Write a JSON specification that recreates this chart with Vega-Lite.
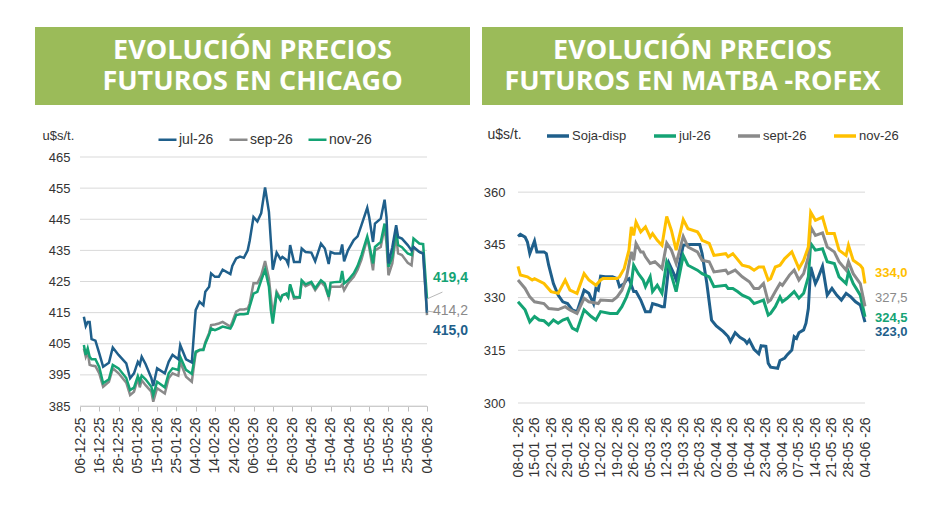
{
"$schema": "https://vega.github.io/schema/vega-lite/v6.json",
"background": "white",
"padding": {"left": 35, "top": 27, "right": 30, "bottom": 40},
"config": {
  "view": {"stroke": null},
  "font": "Liberation Sans",
  "axis": {"labelFlush": false, "labelOverlap": false, "gridColor": "#d9d9d9", "labelColor": "#333333", "titleColor": "#333333"}
},
"datasets": {
"chi": [
{"d":"2025-12-08","jul-26":413.7,"sep-26":403.5,"nov-26":404.6},
{"d":"2025-12-09","jul-26":410.7,"sep-26":400.8,"nov-26":401.4},
{"d":"2025-12-10","jul-26":412.0,"sep-26":402.4,"nov-26":403.5},
{"d":"2025-12-11","jul-26":412.0,"sep-26":398.2,"nov-26":400.8},
{"d":"2025-12-12","jul-26":406.5,"sep-26":398.0,"nov-26":400.0},
{"d":"2025-12-14","jul-26":406.0,"sep-26":397.8,"nov-26":400.0},
{"d":"2025-12-16","jul-26":401.9,"sep-26":395.5,"nov-26":397.5},
{"d":"2025-12-18","jul-26":397.6,"sep-26":391.2,"nov-26":392.3},
{"d":"2025-12-21","jul-26":398.9,"sep-26":392.8,"nov-26":393.6},
{"d":"2025-12-23","jul-26":403.8,"sep-26":397.1,"nov-26":398.2},
{"d":"2025-12-26","jul-26":401.4,"sep-26":395.5,"nov-26":397.1},
{"d":"2025-12-30","jul-26":398.7,"sep-26":392.5,"nov-26":394.0},
{"d":"2026-01-01","jul-26":393.9,"sep-26":388.5,"nov-26":390.1},
{"d":"2026-01-03","jul-26":395.5,"sep-26":389.6,"nov-26":390.9},
{"d":"2026-01-05","jul-26":399.2,"sep-26":393.9,"nov-26":394.6},
{"d":"2026-01-06","jul-26":398.2,"sep-26":391.0,"nov-26":392.8},
{"d":"2026-01-07","jul-26":400.8,"sep-26":393.3,"nov-26":394.8},
{"d":"2026-01-09","jul-26":398.5,"sep-26":391.7,"nov-26":393.6},
{"d":"2026-01-12","jul-26":394.0,"sep-26":389.6,"nov-26":391.2},
{"d":"2026-01-13","jul-26":391.4,"sep-26":386.4,"nov-26":388.5},
{"d":"2026-01-15","jul-26":397.1,"sep-26":390.7,"nov-26":392.8},
{"d":"2026-01-19","jul-26":395.5,"sep-26":389.0,"nov-26":391.0},
{"d":"2026-01-21","jul-26":399.2,"sep-26":393.9,"nov-26":395.5},
{"d":"2026-01-23","jul-26":401.4,"sep-26":395.5,"nov-26":397.1},
{"d":"2026-01-26","jul-26":400.0,"sep-26":394.7,"nov-26":396.6},
{"d":"2026-01-27","jul-26":404.6,"sep-26":399.2,"nov-26":400.8},
{"d":"2026-01-30","jul-26":400.0,"sep-26":394.4,"nov-26":396.6},
{"d":"2026-02-02","jul-26":399.0,"sep-26":392.8,"nov-26":395.3},
{"d":"2026-02-04","jul-26":415.8,"sep-26":402.0,"nov-26":402.5},
{"d":"2026-02-06","jul-26":418.5,"sep-26":403.0,"nov-26":403.0},
{"d":"2026-02-08","jul-26":417.4,"sep-26":403.2,"nov-26":403.0},
{"d":"2026-02-09","jul-26":421.7,"sep-26":405.5,"nov-26":405.0},
{"d":"2026-02-11","jul-26":423.3,"sep-26":408.5,"nov-26":408.0},
{"d":"2026-02-12","jul-26":427.6,"sep-26":411.0,"nov-26":409.9},
{"d":"2026-02-14","jul-26":426.5,"sep-26":411.2,"nov-26":409.4},
{"d":"2026-02-16","jul-26":426.5,"sep-26":411.5,"nov-26":409.9},
{"d":"2026-02-18","jul-26":428.8,"sep-26":412.0,"nov-26":410.5},
{"d":"2026-02-22","jul-26":427.4,"sep-26":410.5,"nov-26":409.9},
{"d":"2026-02-23","jul-26":430.0,"sep-26":412.0,"nov-26":411.0},
{"d":"2026-02-25","jul-26":432.4,"sep-26":415.3,"nov-26":414.2},
{"d":"2026-02-27","jul-26":433.0,"sep-26":416.0,"nov-26":414.5},
{"d":"2026-03-01","jul-26":432.6,"sep-26":416.0,"nov-26":414.5},
{"d":"2026-03-03","jul-26":435.0,"sep-26":416.3,"nov-26":414.7},
{"d":"2026-03-04","jul-26":438.0,"sep-26":417.9,"nov-26":416.9},
{"d":"2026-03-06","jul-26":445.7,"sep-26":424.4,"nov-26":421.1},
{"d":"2026-03-08","jul-26":444.3,"sep-26":424.4,"nov-26":421.7},
{"d":"2026-03-10","jul-26":447.0,"sep-26":427.0,"nov-26":425.4},
{"d":"2026-03-12","jul-26":455.2,"sep-26":431.6,"nov-26":428.8},
{"d":"2026-03-14","jul-26":447.4,"sep-26":426.0,"nov-26":423.3},
{"d":"2026-03-15","jul-26":438.0,"sep-26":420.1,"nov-26":415.8},
{"d":"2026-03-16","jul-26":428.8,"sep-26":414.0,"nov-26":411.5},
{"d":"2026-03-18","jul-26":434.3,"sep-26":421.7,"nov-26":421.1},
{"d":"2026-03-20","jul-26":432.2,"sep-26":419.5,"nov-26":419.0},
{"d":"2026-03-21","jul-26":432.9,"sep-26":420.6,"nov-26":420.6},
{"d":"2026-03-23","jul-26":432.0,"sep-26":421.0,"nov-26":421.1},
{"d":"2026-03-24","jul-26":430.6,"sep-26":420.0,"nov-26":420.0},
{"d":"2026-03-25","jul-26":436.7,"sep-26":423.8,"nov-26":424.1},
{"d":"2026-03-27","jul-26":431.3,"sep-26":419.5,"nov-26":420.1},
{"d":"2026-03-30","jul-26":431.3,"sep-26":419.8,"nov-26":419.9},
{"d":"2026-03-31","jul-26":435.6,"sep-26":424.9,"nov-26":425.4},
{"d":"2026-04-02","jul-26":434.5,"sep-26":423.5,"nov-26":424.1},
{"d":"2026-04-05","jul-26":434.3,"sep-26":424.4,"nov-26":424.9},
{"d":"2026-04-07","jul-26":431.5,"sep-26":422.2,"nov-26":422.8},
{"d":"2026-04-10","jul-26":437.2,"sep-26":424.9,"nov-26":425.4},
{"d":"2026-04-12","jul-26":435.6,"sep-26":423.5,"nov-26":424.4},
{"d":"2026-04-14","jul-26":430.6,"sep-26":419.9,"nov-26":420.1},
{"d":"2026-04-15","jul-26":434.5,"sep-26":423.3,"nov-26":424.6},
{"d":"2026-04-17","jul-26":434.0,"sep-26":423.3,"nov-26":424.8},
{"d":"2026-04-20","jul-26":434.0,"sep-26":423.3,"nov-26":424.9},
{"d":"2026-04-21","jul-26":436.9,"sep-26":424.0,"nov-26":428.4},
{"d":"2026-04-22","jul-26":431.5,"sep-26":422.2,"nov-26":424.4},
{"d":"2026-04-24","jul-26":435.0,"sep-26":424.4,"nov-26":425.4},
{"d":"2026-04-27","jul-26":438.3,"sep-26":426.5,"nov-26":427.6},
{"d":"2026-04-29","jul-26":439.5,"sep-26":428.8,"nov-26":430.0},
{"d":"2026-05-01","jul-26":443.1,"sep-26":432.0,"nov-26":433.5},
{"d":"2026-05-04","jul-26":448.7,"sep-26":438.8,"nov-26":439.5},
{"d":"2026-05-05","jul-26":445.7,"sep-26":436.0,"nov-26":437.0},
{"d":"2026-05-07","jul-26":437.7,"sep-26":428.6,"nov-26":430.8},
{"d":"2026-05-08","jul-26":443.6,"sep-26":435.0,"nov-26":436.1},
{"d":"2026-05-11","jul-26":445.2,"sep-26":436.1,"nov-26":437.7},
{"d":"2026-05-13","jul-26":451.3,"sep-26":442.5,"nov-26":443.6},
{"d":"2026-05-14","jul-26":445.7,"sep-26":437.2,"nov-26":439.3},
{"d":"2026-05-15","jul-26":430.8,"sep-26":427.0,"nov-26":429.7},
{"d":"2026-05-17","jul-26":436.0,"sep-26":430.8,"nov-26":432.9},
{"d":"2026-05-19","jul-26":443.1,"sep-26":439.9,"nov-26":441.7},
{"d":"2026-05-20","jul-26":439.3,"sep-26":434.0,"nov-26":436.7},
{"d":"2026-05-22","jul-26":438.8,"sep-26":433.5,"nov-26":436.0},
{"d":"2026-05-25","jul-26":436.7,"sep-26":431.0,"nov-26":434.0},
{"d":"2026-05-27","jul-26":435.0,"sep-26":430.2,"nov-26":433.5},
{"d":"2026-05-28","jul-26":436.1,"sep-26":436.0,"nov-26":438.8},
{"d":"2026-05-31","jul-26":434.5,"sep-26":434.5,"nov-26":437.2},
{"d":"2026-06-02","jul-26":434.0,"sep-26":434.0,"nov-26":437.0},
{"d":"2026-06-04","jul-26":415.0,"sep-26":414.2,"nov-26":419.4}
],
"mat": [
{"s":"Soja-disp","d":"2026-01-08","v":347.4},{"s":"Soja-disp","d":"2026-01-09","v":348.0},{"s":"Soja-disp","d":"2026-01-11","v":347.2},{"s":"Soja-disp","d":"2026-01-12","v":345.8},{"s":"Soja-disp","d":"2026-01-13","v":342.5},{"s":"Soja-disp","d":"2026-01-15","v":346.1},{"s":"Soja-disp","d":"2026-01-16","v":343.0},{"s":"Soja-disp","d":"2026-01-19","v":343.0},{"s":"Soja-disp","d":"2026-01-20","v":342.5},{"s":"Soja-disp","d":"2026-01-21","v":339.2},{"s":"Soja-disp","d":"2026-01-23","v":334.0},{"s":"Soja-disp","d":"2026-01-25","v":330.7},{"s":"Soja-disp","d":"2026-01-27","v":328.8},{"s":"Soja-disp","d":"2026-01-29","v":328.3},{"s":"Soja-disp","d":"2026-01-31","v":326.5},{"s":"Soja-disp","d":"2026-02-02","v":326.0},{"s":"Soja-disp","d":"2026-02-05","v":332.1},{"s":"Soja-disp","d":"2026-02-07","v":331.2},{"s":"Soja-disp","d":"2026-02-09","v":328.3},{"s":"Soja-disp","d":"2026-02-10","v":332.6},{"s":"Soja-disp","d":"2026-02-11","v":332.1},{"s":"Soja-disp","d":"2026-02-12","v":336.1},{"s":"Soja-disp","d":"2026-02-14","v":335.9},{"s":"Soja-disp","d":"2026-02-17","v":335.9},{"s":"Soja-disp","d":"2026-02-19","v":335.4},{"s":"Soja-disp","d":"2026-02-20","v":333.1},{"s":"Soja-disp","d":"2026-02-22","v":334.0},{"s":"Soja-disp","d":"2026-02-23","v":335.0},{"s":"Soja-disp","d":"2026-02-24","v":335.4},{"s":"Soja-disp","d":"2026-02-26","v":331.7},{"s":"Soja-disp","d":"2026-02-27","v":331.7},{"s":"Soja-disp","d":"2026-03-01","v":329.3},{"s":"Soja-disp","d":"2026-03-03","v":326.0},{"s":"Soja-disp","d":"2026-03-05","v":326.0},{"s":"Soja-disp","d":"2026-03-06","v":328.3},{"s":"Soja-disp","d":"2026-03-08","v":327.9},{"s":"Soja-disp","d":"2026-03-10","v":327.4},{"s":"Soja-disp","d":"2026-03-11","v":327.4},{"s":"Soja-disp","d":"2026-03-13","v":339.7},{"s":"Soja-disp","d":"2026-03-15","v":336.8},{"s":"Soja-disp","d":"2026-03-16","v":335.0},{"s":"Soja-disp","d":"2026-03-19","v":344.9},{"s":"Soja-disp","d":"2026-03-22","v":345.1},{"s":"Soja-disp","d":"2026-03-26","v":345.1},{"s":"Soja-disp","d":"2026-03-27","v":342.5},{"s":"Soja-disp","d":"2026-03-29","v":334.0},{"s":"Soja-disp","d":"2026-03-31","v":323.6},{"s":"Soja-disp","d":"2026-04-02","v":321.9},{"s":"Soja-disp","d":"2026-04-05","v":320.3},{"s":"Soja-disp","d":"2026-04-07","v":318.9},{"s":"Soja-disp","d":"2026-04-08","v":317.5},{"s":"Soja-disp","d":"2026-04-10","v":320.0},{"s":"Soja-disp","d":"2026-04-12","v":318.7},{"s":"Soja-disp","d":"2026-04-14","v":317.9},{"s":"Soja-disp","d":"2026-04-15","v":317.0},{"s":"Soja-disp","d":"2026-04-16","v":317.9},{"s":"Soja-disp","d":"2026-04-18","v":315.3},{"s":"Soja-disp","d":"2026-04-20","v":314.0},{"s":"Soja-disp","d":"2026-04-21","v":316.3},{"s":"Soja-disp","d":"2026-04-23","v":316.1},{"s":"Soja-disp","d":"2026-04-24","v":311.3},{"s":"Soja-disp","d":"2026-04-25","v":310.2},{"s":"Soja-disp","d":"2026-04-28","v":309.9},{"s":"Soja-disp","d":"2026-04-29","v":312.1},{"s":"Soja-disp","d":"2026-05-01","v":312.8},{"s":"Soja-disp","d":"2026-05-02","v":313.7},{"s":"Soja-disp","d":"2026-05-04","v":315.1},{"s":"Soja-disp","d":"2026-05-05","v":318.9},{"s":"Soja-disp","d":"2026-05-06","v":318.4},{"s":"Soja-disp","d":"2026-05-07","v":320.0},{"s":"Soja-disp","d":"2026-05-09","v":320.8},{"s":"Soja-disp","d":"2026-05-10","v":322.7},{"s":"Soja-disp","d":"2026-05-11","v":326.9},{"s":"Soja-disp","d":"2026-05-12","v":338.7},{"s":"Soja-disp","d":"2026-05-14","v":334.0},{"s":"Soja-disp","d":"2026-05-15","v":335.4},{"s":"Soja-disp","d":"2026-05-17","v":338.9},{"s":"Soja-disp","d":"2026-05-19","v":330.7},{"s":"Soja-disp","d":"2026-05-21","v":332.6},{"s":"Soja-disp","d":"2026-05-23","v":330.7},{"s":"Soja-disp","d":"2026-05-25","v":329.3},{"s":"Soja-disp","d":"2026-05-27","v":331.2},{"s":"Soja-disp","d":"2026-05-29","v":330.2},{"s":"Soja-disp","d":"2026-05-31","v":328.8},{"s":"Soja-disp","d":"2026-06-02","v":327.9},{"s":"Soja-disp","d":"2026-06-04","v":323.0},
{"s":"jul-26","d":"2026-01-08","v":328.8},{"s":"jul-26","d":"2026-01-11","v":326.5},{"s":"jul-26","d":"2026-01-13","v":323.1},{"s":"jul-26","d":"2026-01-15","v":324.6},{"s":"jul-26","d":"2026-01-17","v":323.6},{"s":"jul-26","d":"2026-01-19","v":323.4},{"s":"jul-26","d":"2026-01-21","v":322.2},{"s":"jul-26","d":"2026-01-23","v":323.6},{"s":"jul-26","d":"2026-01-25","v":322.7},{"s":"jul-26","d":"2026-01-27","v":323.6},{"s":"jul-26","d":"2026-01-29","v":324.1},{"s":"jul-26","d":"2026-01-31","v":321.3},{"s":"jul-26","d":"2026-02-02","v":320.6},{"s":"jul-26","d":"2026-02-05","v":326.5},{"s":"jul-26","d":"2026-02-08","v":324.6},{"s":"jul-26","d":"2026-02-10","v":323.6},{"s":"jul-26","d":"2026-02-12","v":326.0},{"s":"jul-26","d":"2026-02-16","v":325.5},{"s":"jul-26","d":"2026-02-19","v":325.5},{"s":"jul-26","d":"2026-02-21","v":327.4},{"s":"jul-26","d":"2026-02-23","v":330.2},{"s":"jul-26","d":"2026-02-25","v":334.0},{"s":"jul-26","d":"2026-02-26","v":339.2},{"s":"jul-26","d":"2026-02-28","v":336.8},{"s":"jul-26","d":"2026-03-02","v":335.0},{"s":"jul-26","d":"2026-03-03","v":333.1},{"s":"jul-26","d":"2026-03-05","v":335.9},{"s":"jul-26","d":"2026-03-06","v":331.7},{"s":"jul-26","d":"2026-03-08","v":333.5},{"s":"jul-26","d":"2026-03-10","v":331.2},{"s":"jul-26","d":"2026-03-12","v":340.2},{"s":"jul-26","d":"2026-03-13","v":338.7},{"s":"jul-26","d":"2026-03-16","v":331.7},{"s":"jul-26","d":"2026-03-19","v":342.0},{"s":"jul-26","d":"2026-03-21","v":339.2},{"s":"jul-26","d":"2026-03-25","v":337.8},{"s":"jul-26","d":"2026-03-27","v":336.8},{"s":"jul-26","d":"2026-03-30","v":335.9},{"s":"jul-26","d":"2026-04-01","v":333.1},{"s":"jul-26","d":"2026-04-06","v":333.5},{"s":"jul-26","d":"2026-04-07","v":332.6},{"s":"jul-26","d":"2026-04-09","v":332.6},{"s":"jul-26","d":"2026-04-11","v":331.7},{"s":"jul-26","d":"2026-04-13","v":330.7},{"s":"jul-26","d":"2026-04-16","v":329.8},{"s":"jul-26","d":"2026-04-18","v":328.3},{"s":"jul-26","d":"2026-04-20","v":328.8},{"s":"jul-26","d":"2026-04-22","v":329.3},{"s":"jul-26","d":"2026-04-24","v":325.0},{"s":"jul-26","d":"2026-04-25","v":325.5},{"s":"jul-26","d":"2026-04-27","v":327.4},{"s":"jul-26","d":"2026-04-29","v":330.2},{"s":"jul-26","d":"2026-04-30","v":328.8},{"s":"jul-26","d":"2026-05-02","v":329.8},{"s":"jul-26","d":"2026-05-05","v":331.7},{"s":"jul-26","d":"2026-05-07","v":329.8},{"s":"jul-26","d":"2026-05-09","v":331.2},{"s":"jul-26","d":"2026-05-11","v":335.9},{"s":"jul-26","d":"2026-05-12","v":345.4},{"s":"jul-26","d":"2026-05-14","v":343.5},{"s":"jul-26","d":"2026-05-17","v":343.9},{"s":"jul-26","d":"2026-05-19","v":340.2},{"s":"jul-26","d":"2026-05-22","v":339.7},{"s":"jul-26","d":"2026-05-24","v":335.9},{"s":"jul-26","d":"2026-05-27","v":334.0},{"s":"jul-26","d":"2026-05-28","v":337.3},{"s":"jul-26","d":"2026-05-30","v":334.0},{"s":"jul-26","d":"2026-06-02","v":330.7},{"s":"jul-26","d":"2026-06-04","v":324.5},
{"s":"sept-26","d":"2026-01-08","v":335.0},{"s":"sept-26","d":"2026-01-11","v":332.6},{"s":"sept-26","d":"2026-01-13","v":330.2},{"s":"sept-26","d":"2026-01-15","v":328.8},{"s":"sept-26","d":"2026-01-19","v":328.3},{"s":"sept-26","d":"2026-01-21","v":326.9},{"s":"sept-26","d":"2026-01-25","v":326.6},{"s":"sept-26","d":"2026-01-28","v":327.4},{"s":"sept-26","d":"2026-01-30","v":326.5},{"s":"sept-26","d":"2026-02-02","v":325.5},{"s":"sept-26","d":"2026-02-05","v":329.8},{"s":"sept-26","d":"2026-02-07","v":328.8},{"s":"sept-26","d":"2026-02-11","v":328.3},{"s":"sept-26","d":"2026-02-12","v":329.3},{"s":"sept-26","d":"2026-02-17","v":329.1},{"s":"sept-26","d":"2026-02-19","v":330.2},{"s":"sept-26","d":"2026-02-21","v":332.1},{"s":"sept-26","d":"2026-02-23","v":335.9},{"s":"sept-26","d":"2026-02-25","v":343.0},{"s":"sept-26","d":"2026-02-26","v":340.6},{"s":"sept-26","d":"2026-02-27","v":345.4},{"s":"sept-26","d":"2026-03-01","v":343.0},{"s":"sept-26","d":"2026-03-02","v":343.0},{"s":"sept-26","d":"2026-03-03","v":341.6},{"s":"sept-26","d":"2026-03-05","v":339.7},{"s":"sept-26","d":"2026-03-07","v":340.2},{"s":"sept-26","d":"2026-03-10","v":338.3},{"s":"sept-26","d":"2026-03-12","v":345.5},{"s":"sept-26","d":"2026-03-14","v":343.5},{"s":"sept-26","d":"2026-03-16","v":339.7},{"s":"sept-26","d":"2026-03-19","v":347.4},{"s":"sept-26","d":"2026-03-21","v":344.4},{"s":"sept-26","d":"2026-03-25","v":343.0},{"s":"sept-26","d":"2026-03-27","v":340.6},{"s":"sept-26","d":"2026-03-30","v":340.2},{"s":"sept-26","d":"2026-04-01","v":337.3},{"s":"sept-26","d":"2026-04-06","v":337.8},{"s":"sept-26","d":"2026-04-07","v":336.8},{"s":"sept-26","d":"2026-04-10","v":337.8},{"s":"sept-26","d":"2026-04-13","v":335.9},{"s":"sept-26","d":"2026-04-16","v":334.5},{"s":"sept-26","d":"2026-04-18","v":332.6},{"s":"sept-26","d":"2026-04-20","v":332.6},{"s":"sept-26","d":"2026-04-22","v":334.0},{"s":"sept-26","d":"2026-04-24","v":328.8},{"s":"sept-26","d":"2026-04-25","v":329.3},{"s":"sept-26","d":"2026-04-27","v":331.7},{"s":"sept-26","d":"2026-04-29","v":334.0},{"s":"sept-26","d":"2026-04-30","v":333.5},{"s":"sept-26","d":"2026-05-03","v":336.4},{"s":"sept-26","d":"2026-05-05","v":337.8},{"s":"sept-26","d":"2026-05-07","v":335.0},{"s":"sept-26","d":"2026-05-09","v":336.8},{"s":"sept-26","d":"2026-05-11","v":341.6},{"s":"sept-26","d":"2026-05-12","v":350.1},{"s":"sept-26","d":"2026-05-14","v":347.7},{"s":"sept-26","d":"2026-05-17","v":348.4},{"s":"sept-26","d":"2026-05-19","v":344.4},{"s":"sept-26","d":"2026-05-22","v":343.0},{"s":"sept-26","d":"2026-05-24","v":340.2},{"s":"sept-26","d":"2026-05-27","v":337.8},{"s":"sept-26","d":"2026-05-28","v":340.2},{"s":"sept-26","d":"2026-05-30","v":336.8},{"s":"sept-26","d":"2026-06-02","v":334.0},{"s":"sept-26","d":"2026-06-04","v":327.5},
{"s":"nov-26","d":"2026-01-08","v":338.9},{"s":"nov-26","d":"2026-01-09","v":336.4},{"s":"nov-26","d":"2026-01-12","v":335.9},{"s":"nov-26","d":"2026-01-14","v":335.0},{"s":"nov-26","d":"2026-01-15","v":335.4},{"s":"nov-26","d":"2026-01-19","v":334.0},{"s":"nov-26","d":"2026-01-22","v":331.7},{"s":"nov-26","d":"2026-01-25","v":331.2},{"s":"nov-26","d":"2026-01-28","v":335.0},{"s":"nov-26","d":"2026-01-30","v":332.1},{"s":"nov-26","d":"2026-02-02","v":331.2},{"s":"nov-26","d":"2026-02-05","v":336.8},{"s":"nov-26","d":"2026-02-07","v":335.0},{"s":"nov-26","d":"2026-02-10","v":333.5},{"s":"nov-26","d":"2026-02-12","v":335.0},{"s":"nov-26","d":"2026-02-13","v":335.4},{"s":"nov-26","d":"2026-02-19","v":335.4},{"s":"nov-26","d":"2026-02-20","v":335.9},{"s":"nov-26","d":"2026-02-22","v":338.3},{"s":"nov-26","d":"2026-02-24","v":343.5},{"s":"nov-26","d":"2026-02-25","v":350.1},{"s":"nov-26","d":"2026-02-26","v":347.7},{"s":"nov-26","d":"2026-02-27","v":351.5},{"s":"nov-26","d":"2026-03-01","v":348.7},{"s":"nov-26","d":"2026-03-03","v":350.1},{"s":"nov-26","d":"2026-03-05","v":347.2},{"s":"nov-26","d":"2026-03-06","v":348.2},{"s":"nov-26","d":"2026-03-08","v":346.3},{"s":"nov-26","d":"2026-03-10","v":344.9},{"s":"nov-26","d":"2026-03-12","v":353.1},{"s":"nov-26","d":"2026-03-14","v":349.1},{"s":"nov-26","d":"2026-03-16","v":343.5},{"s":"nov-26","d":"2026-03-19","v":352.2},{"s":"nov-26","d":"2026-03-21","v":349.6},{"s":"nov-26","d":"2026-03-25","v":348.7},{"s":"nov-26","d":"2026-03-26","v":347.7},{"s":"nov-26","d":"2026-03-27","v":346.3},{"s":"nov-26","d":"2026-03-30","v":345.4},{"s":"nov-26","d":"2026-04-01","v":342.0},{"s":"nov-26","d":"2026-04-06","v":342.5},{"s":"nov-26","d":"2026-04-07","v":341.6},{"s":"nov-26","d":"2026-04-09","v":342.5},{"s":"nov-26","d":"2026-04-13","v":339.2},{"s":"nov-26","d":"2026-04-16","v":338.7},{"s":"nov-26","d":"2026-04-18","v":337.8},{"s":"nov-26","d":"2026-04-20","v":338.7},{"s":"nov-26","d":"2026-04-22","v":338.7},{"s":"nov-26","d":"2026-04-24","v":335.0},{"s":"nov-26","d":"2026-04-25","v":335.4},{"s":"nov-26","d":"2026-04-27","v":338.7},{"s":"nov-26","d":"2026-04-29","v":339.2},{"s":"nov-26","d":"2026-05-01","v":341.1},{"s":"nov-26","d":"2026-05-04","v":343.0},{"s":"nov-26","d":"2026-05-07","v":338.3},{"s":"nov-26","d":"2026-05-09","v":340.6},{"s":"nov-26","d":"2026-05-11","v":344.4},{"s":"nov-26","d":"2026-05-12","v":354.3},{"s":"nov-26","d":"2026-05-14","v":352.0},{"s":"nov-26","d":"2026-05-17","v":352.9},{"s":"nov-26","d":"2026-05-19","v":348.2},{"s":"nov-26","d":"2026-05-22","v":348.2},{"s":"nov-26","d":"2026-05-24","v":343.5},{"s":"nov-26","d":"2026-05-27","v":342.0},{"s":"nov-26","d":"2026-05-28","v":344.9},{"s":"nov-26","d":"2026-05-30","v":340.6},{"s":"nov-26","d":"2026-06-02","v":339.2},{"s":"nov-26","d":"2026-06-03","v":338.3},{"s":"nov-26","d":"2026-06-04","v":334.0}
],
"endL": [
{"s":"nov-26","d":"2026-06-04","v":419.4,"t":"419,4"},
{"s":"sep-26","d":"2026-06-04","v":414.2,"t":"414,2"},
{"s":"jul-26","d":"2026-06-04","v":415.0,"t":"415,0"}
],
"leadL": [
{"d":"2026-06-04","d2":"2026-06-12","v":419.4,"v2":421.6},
{"d":"2026-06-04","d2":"2026-06-11","v":415.5,"v2":414.9}
],
"endR": [
{"s":"nov-26","d":"2026-06-04","v":334.0,"t":"334,0"},
{"s":"sept-26","d":"2026-06-04","v":327.5,"t":"327,5"},
{"s":"jul-26","d":"2026-06-04","v":324.5,"t":"324,5"},
{"s":"Soja-disp","d":"2026-06-04","v":323.0,"t":"323,0"}
],
"gridL": [{"g":385},{"g":395},{"g":405},{"g":415},{"g":425},{"g":435},{"g":445},{"g":455},{"g":465}],
"gridR": [{"g":300},{"g":315},{"g":330},{"g":345},{"g":360}]
},
"spacing": 18,
"resolve": {"scale": {"color": "independent", "x": "independent", "y": "independent"}, "legend": {"color": "independent"}},
"vconcat": [
{
 "spacing": 12,
 "hconcat": [
  {
   "width": 435, "height": 78,
   "view": {"fill": "#9BBB59", "stroke": null},
   "data": {"values": [{"t": "EVOLUCIÓN PRECIOS\nFUTUROS EN CHICAGO"}]},
   "mark": {"type": "text", "lineBreak": "\n", "font": "Open Sans", "fontWeight": "bold", "fontSize": 27, "lineHeight": 31, "color": "white", "align": "center", "baseline": "middle", "dy": -15.5},
   "encoding": {"text": {"field": "t"}}
  },
  {
   "width": 421, "height": 78,
   "view": {"fill": "#9BBB59", "stroke": null},
   "data": {"values": [{"t": "EVOLUCIÓN PRECIOS\nFUTUROS EN MATBA -ROFEX"}]},
   "mark": {"type": "text", "lineBreak": "\n", "font": "Open Sans", "fontWeight": "bold", "fontSize": 27, "lineHeight": 31, "color": "white", "align": "center", "baseline": "middle", "dy": -15.5},
   "encoding": {"text": {"field": "t"}}
  }
 ]
},
{
 "spacing": 55,
 "bounds": "flush",
 "resolve": {"scale": {"color": "independent", "x": "independent", "y": "independent"}, "legend": {"color": "independent"}},
 "hconcat": [
  {
   "width": 392, "height": 249,
   "layer": [
    {
     "data": {"name": "gridL"},
     "mark": {"type": "rule", "color": "#d9d9d9", "strokeWidth": 1},
     "encoding": {
      "y": {"field": "g", "type": "quantitative"},
      "x": {"datum": {"year": 2025, "month": 12, "date": 6, "utc": true}, "type": "temporal"},
      "x2": {"datum": {"year": 2026, "month": 6, "date": 4, "utc": true}}
     }
    },
    {
     "data": {"name": "chi"},
     "transform": [{"fold": ["sep-26", "nov-26", "jul-26"], "as": ["s", "v"]}],
     "mark": {"type": "line", "strokeWidth": 2.5},
     "encoding": {
      "x": {"field": "d", "type": "temporal",
        "scale": {"type": "utc", "nice": false, "range": [45, 392], "domain": [{"year": 2025, "month": 12, "date": 6, "utc": true}, {"year": 2026, "month": 6, "date": 4, "utc": true}]},
        "axis": {"title": null, "format": "%d-%m-%y", "labelAngle": -90, "tickCount": 40, "labelOverlap": false, "labelFlush": false, "labelFontSize": 14, "labelFont": "Liberation Sans", "labelPadding": 6, "tickSize": 5, "tickColor": "#bfbfbf", "domainColor": "#bfbfbf", "grid": false,
          "values": [
           {"year": 2025, "month": 12, "date": 6, "utc": true}, {"year": 2025, "month": 12, "date": 16, "utc": true}, {"year": 2025, "month": 12, "date": 26, "utc": true},
           {"year": 2026, "month": 1, "date": 5, "utc": true}, {"year": 2026, "month": 1, "date": 15, "utc": true}, {"year": 2026, "month": 1, "date": 25, "utc": true},
           {"year": 2026, "month": 2, "date": 4, "utc": true}, {"year": 2026, "month": 2, "date": 14, "utc": true}, {"year": 2026, "month": 2, "date": 24, "utc": true},
           {"year": 2026, "month": 3, "date": 6, "utc": true}, {"year": 2026, "month": 3, "date": 16, "utc": true}, {"year": 2026, "month": 3, "date": 26, "utc": true},
           {"year": 2026, "month": 4, "date": 5, "utc": true}, {"year": 2026, "month": 4, "date": 15, "utc": true}, {"year": 2026, "month": 4, "date": 25, "utc": true},
           {"year": 2026, "month": 5, "date": 5, "utc": true}, {"year": 2026, "month": 5, "date": 15, "utc": true}, {"year": 2026, "month": 5, "date": 25, "utc": true},
           {"year": 2026, "month": 6, "date": 4, "utc": true}
          ]}},
      "y": {"field": "v", "type": "quantitative",
        "scale": {"domain": [385, 465], "nice": false, "zero": false},
        "axis": {"values": [385, 395, 405, 415, 425, 435, 445, 455, 465], "tickCount": 20, "offset": -45, "labelOverlap": false, "domain": false, "ticks": false, "grid": false, "labelFont": "Liberation Sans", "labelFontSize": 13, "labelPadding": 10,
          "title": "u$s/t.", "titleAngle": 0, "titleAlign": "left", "titleBaseline": "middle", "titleX": -38, "titleY": -22, "titleFont": "Liberation Sans", "titleFontSize": 13, "titleFontWeight": "normal"}},
      "color": {"field": "s", "type": "nominal",
        "scale": {"domain": ["jul-26", "sep-26", "nov-26"], "range": ["#1f5f8b", "#8a8a8a", "#14a374"]},
        "legend": {"orient": "none", "legendX": 122, "legendY": -28, "direction": "horizontal", "title": null, "symbolType": "stroke", "symbolSize": 324, "symbolStrokeWidth": 2.5, "labelFontSize": 14, "labelFont": "Liberation Sans", "labelOffset": 1, "columnPadding": 10, "labelColor": "#333333"}}
     }
    },
    {
     "data": {"name": "leadL"},
     "mark": {"type": "rule", "color": "#a6a6a6", "strokeWidth": 0.8},
     "encoding": {"x": {"field": "d", "type": "temporal"}, "x2": {"field": "d2"}, "y": {"field": "v", "type": "quantitative"}, "y2": {"field": "v2"}}
    },
    {
     "data": {"name": "endL"}, "transform": [{"filter": "datum.s == 'nov-26'"}],
     "mark": {"type": "text", "align": "left", "baseline": "middle", "dx": 6, "dy": -21, "fontSize": 14, "fontWeight": "bold", "color": "#14a374"},
     "encoding": {"x": {"field": "d", "type": "temporal"}, "y": {"field": "v", "type": "quantitative"}, "text": {"field": "t"}}
    },
    {
     "data": {"name": "endL"}, "transform": [{"filter": "datum.s == 'sep-26'"}],
     "mark": {"type": "text", "align": "left", "baseline": "middle", "dx": 6, "dy": -4, "fontSize": 14, "color": "#8a8a8a"},
     "encoding": {"x": {"field": "d", "type": "temporal"}, "y": {"field": "v", "type": "quantitative"}, "text": {"field": "t"}}
    },
    {
     "data": {"name": "endL"}, "transform": [{"filter": "datum.s == 'jul-26'"}],
     "mark": {"type": "text", "align": "left", "baseline": "middle", "dx": 6, "dy": 18, "fontSize": 14, "fontWeight": "bold", "color": "#1f5f8b"},
     "encoding": {"x": {"field": "d", "type": "temporal"}, "y": {"field": "v", "type": "quantitative"}, "text": {"field": "t"}}
    }
   ]
  },
  {
   "width": 383, "height": 246,
   "layer": [
    {
     "data": {"name": "gridR"},
     "mark": {"type": "rule", "color": "#d9d9d9", "strokeWidth": 1},
     "encoding": {
      "y": {"field": "g", "type": "quantitative"},
      "x": {"datum": {"year": 2026, "month": 1, "date": 8, "utc": true}, "type": "temporal"},
      "x2": {"datum": {"year": 2026, "month": 6, "date": 4, "utc": true}}
     }
    },
    {
     "data": {"name": "mat"},
     "mark": {"type": "line", "strokeWidth": 3},
     "encoding": {
      "x": {"field": "d", "type": "temporal",
        "scale": {"type": "utc", "nice": false, "range": [36, 383], "domain": [{"year": 2026, "month": 1, "date": 8, "utc": true}, {"year": 2026, "month": 6, "date": 4, "utc": true}]},
        "axis": {"title": null, "format": "%d-%m -%y", "labelAngle": -90, "tickCount": 40, "labelOverlap": false, "labelFlush": false, "labelFontSize": 14, "labelFont": "Liberation Sans", "labelPadding": 14, "ticks": false, "domain": false, "grid": false,
          "values": [
           {"year": 2026, "month": 1, "date": 8, "utc": true}, {"year": 2026, "month": 1, "date": 15, "utc": true}, {"year": 2026, "month": 1, "date": 22, "utc": true}, {"year": 2026, "month": 1, "date": 29, "utc": true},
           {"year": 2026, "month": 2, "date": 5, "utc": true}, {"year": 2026, "month": 2, "date": 12, "utc": true}, {"year": 2026, "month": 2, "date": 19, "utc": true}, {"year": 2026, "month": 2, "date": 26, "utc": true},
           {"year": 2026, "month": 3, "date": 5, "utc": true}, {"year": 2026, "month": 3, "date": 12, "utc": true}, {"year": 2026, "month": 3, "date": 19, "utc": true}, {"year": 2026, "month": 3, "date": 26, "utc": true},
           {"year": 2026, "month": 4, "date": 2, "utc": true}, {"year": 2026, "month": 4, "date": 9, "utc": true}, {"year": 2026, "month": 4, "date": 16, "utc": true}, {"year": 2026, "month": 4, "date": 23, "utc": true}, {"year": 2026, "month": 4, "date": 30, "utc": true},
           {"year": 2026, "month": 5, "date": 7, "utc": true}, {"year": 2026, "month": 5, "date": 14, "utc": true}, {"year": 2026, "month": 5, "date": 21, "utc": true}, {"year": 2026, "month": 5, "date": 28, "utc": true},
           {"year": 2026, "month": 6, "date": 4, "utc": true}
          ]}},
      "y": {"field": "v", "type": "quantitative",
        "scale": {"domain": [300, 370], "nice": false, "zero": false},
        "axis": {"values": [300, 315, 330, 345, 360], "tickCount": 20, "offset": -36, "labelOverlap": false, "domain": false, "ticks": false, "grid": false, "labelFont": "Liberation Sans", "labelFontSize": 13, "labelPadding": 13,
          "title": "u$s/t.", "titleAngle": 0, "titleAlign": "left", "titleBaseline": "middle", "titleX": -31, "titleY": -23, "titleFont": "Liberation Sans", "titleFontSize": 14, "titleFontWeight": "normal"}},
      "color": {"field": "s", "type": "nominal",
        "scale": {"domain": ["Soja-disp", "jul-26", "sept-26", "nov-26"], "range": ["#1f5f8b", "#14a374", "#8a8a8a", "#ffc000"]},
        "legend": {"orient": "none", "legendX": 63, "legendY": -34, "direction": "horizontal", "title": null, "symbolType": "stroke", "symbolSize": 484, "symbolStrokeWidth": 3.5, "labelFontSize": 13, "labelFont": "Liberation Sans", "labelOffset": 1, "columnPadding": 20, "labelColor": "#333333"}}
     }
    },
    {
     "data": {"name": "endR"}, "transform": [{"filter": "datum.s == 'nov-26'"}],
     "mark": {"type": "text", "align": "left", "baseline": "middle", "dx": 10, "dy": -11, "fontSize": 13, "fontWeight": "bold", "color": "#ffc000"},
     "encoding": {"x": {"field": "d", "type": "temporal"}, "y": {"field": "v", "type": "quantitative"}, "text": {"field": "t"}}
    },
    {
     "data": {"name": "endR"}, "transform": [{"filter": "datum.s == 'sept-26'"}],
     "mark": {"type": "text", "align": "left", "baseline": "middle", "dx": 10, "dy": -8, "fontSize": 13, "color": "#8a8a8a"},
     "encoding": {"x": {"field": "d", "type": "temporal"}, "y": {"field": "v", "type": "quantitative"}, "text": {"field": "t"}}
    },
    {
     "data": {"name": "endR"}, "transform": [{"filter": "datum.s == 'jul-26'"}],
     "mark": {"type": "text", "align": "left", "baseline": "middle", "dx": 10, "dy": 1, "fontSize": 13, "fontWeight": "bold", "color": "#14a374"},
     "encoding": {"x": {"field": "d", "type": "temporal"}, "y": {"field": "v", "type": "quantitative"}, "text": {"field": "t"}}
    },
    {
     "data": {"name": "endR"}, "transform": [{"filter": "datum.s == 'Soja-disp'"}],
     "mark": {"type": "text", "align": "left", "baseline": "middle", "dx": 10, "dy": 10, "fontSize": 13, "fontWeight": "bold", "color": "#1f5f8b"},
     "encoding": {"x": {"field": "d", "type": "temporal"}, "y": {"field": "v", "type": "quantitative"}, "text": {"field": "t"}}
    }
   ]
  }
 ]
}
]
}
